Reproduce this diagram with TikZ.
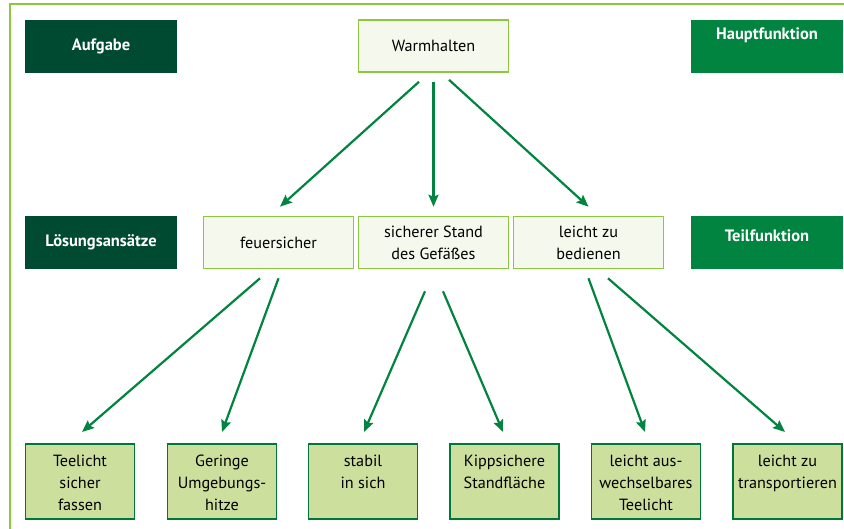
\documentclass[tikz,border=0pt]{standalone}
\usepackage{fontspec}
\setmainfont{PT Sans}
\usepackage{tikz}
\usetikzlibrary{arrows.meta, positioning}

\definecolor{darkgreen}{HTML}{004A31}
\definecolor{midgreen}{HTML}{00843F}
\definecolor{palegreen}{HTML}{8DC63F}
\definecolor{palefill}{HTML}{F5F8EC}
\definecolor{leaffill}{HTML}{CDDF9C}

\tikzset{
  headbox/.style={fill=darkgreen, text=white, font=\fontsize{16.5}{19}\selectfont\bfseries,
                  minimum width=152pt, minimum height=53pt, inner sep=0pt},
  rolebox/.style={headbox, fill=midgreen},
  funcbox/.style={draw=palegreen, line width=1.6pt, fill=palefill, align=center,
                  font=\fontsize{16.2}{22}\selectfont, minimum width=150pt, minimum height=52pt, inner sep=0pt},
  leafbox/.style={draw=midgreen!90!black, line width=1.6pt, fill=leaffill, inner sep=0pt,
                  minimum width=109pt, minimum height=75pt, anchor=north,
                  font=\fontsize{16.2}{22}\selectfont,
                  execute at begin node={\begin{minipage}[c][66pt][t]{108pt}\centering\vspace*{7pt}},
                  execute at end node={\end{minipage}}}
}

\begin{document}
\begin{tikzpicture}[x=1pt, y=-1pt,
        >={Stealth[length=12pt, width=10pt, inset=2pt]},
        link/.style={->, draw=midgreen, line width=2.2pt}]

    \useasboundingbox (0,0) rectangle (844,529);
    % outer frame
    \draw[palegreen, line width=1.5pt] (10,4) rectangle (870,560);

    % row captions
    \node[headbox] (task) at (101,46.5) {Aufgabe};
    \node[headbox] (approach) at (101,242.5) {Lösungsansätze};
    \node[rolebox, text depth=25pt] (mainrole) at (767,46.5) {Hauptfunktion};
    \node[rolebox, text depth=14pt] (subrole) at (767,242.5) {Teilfunktion};

    % functions
    \node[funcbox] (warm) at (433.5,46) {Warmhalten};
    \node[funcbox] (fire) at (278.5,242.5) {feuersicher};
    \node[funcbox] (stand) at (433.5,242.5) {sicherer Stand\\des Gefäßes};
    \node[funcbox] (easy) at (588.5,242.5) {leicht zu\\bedienen};

    % solutions
    \node[leafbox] (hold) at (80,443) {Teelicht\\sicher\\fassen};
    \node[leafbox] (heat) at (222,443) {Geringe\\Umgebungs-\\hitze};
    \node[leafbox] (stable) at (363,443) {stabil\\in sich};
    \node[leafbox] (tilt) at (504.5,443) {Kippsichere\\Standfläche};
    \node[leafbox] (swap) at (646,443) {leicht aus-\\wechselbares\\Teelicht};
    \node[leafbox] (carry) at (787.5,443) {leicht zu\\transportieren};

    % connectors
    \draw[link] ([xshift=-14.5pt, yshift=-9pt]warm.south) -- ([xshift=1.5pt, yshift=9pt]fire.north);
    \draw[link] ([yshift=-9pt]warm.south) -- ([yshift=9pt]stand.north);
    \draw[link] ([xshift=15.5pt, yshift=-7pt]warm.south) -- ([yshift=9pt]easy.north);

    \draw[link] ([xshift=-18.5pt, yshift=-9pt]fire.south) -- ([xshift=2pt, yshift=11pt]hold.north);
    \draw[link] ([yshift=-9pt]fire.south) -- ([yshift=11pt]heat.north);
    \draw[link] ([xshift=-8.5pt, yshift=-22pt]stand.south) -- ([xshift=1pt, yshift=11pt]stable.north);
    \draw[link] ([xshift=9.5pt, yshift=-22pt]stand.south) -- ([xshift=-1.5pt, yshift=11pt]tilt.north);
    \draw[link] ([yshift=-9pt]easy.south) -- ([xshift=-1pt, yshift=11pt]swap.north);
    \draw[link] ([xshift=19.5pt, yshift=-9pt]easy.south) -- ([xshift=-2.5pt, yshift=11pt]carry.north);
\end{tikzpicture}
\end{document}
